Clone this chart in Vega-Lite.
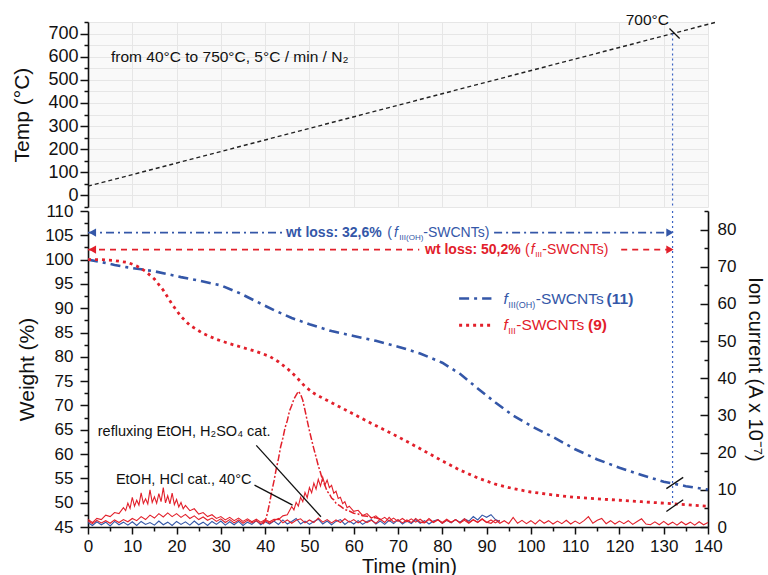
{
  "$schema": "https://vega.github.io/schema/vega-lite/v6.json",
  "padding": {"left": 11, "top": 13, "right": 4, "bottom": 2},
  "background": "white",
  "config": {
    "font": "Liberation Sans",
    "view": {"stroke": null},
    "axis": {
      "domainColor": "#111", "domainWidth": 1.6,
      "tickColor": "#111", "tickWidth": 1.5,
      "labelColor": "#111", "titleColor": "#111",
      "labelFontSize": 17, "titleFontSize": 21, "titleFontWeight": "normal",
      "labelOverlap": false, "labelFlush": false, "tickCount": 100,
      "grid": false
    }
  },
  "datasets": {
    "temp": [{"t": 0, "v": 40}, {"t": 142, "v": 750}],
    "tgaOh": [
      {"t":0,"v":100},{"t":3,"v":99.5},{"t":6,"v":98.9},{"t":9,"v":98.4},{"t":12,"v":98.0},{"t":15,"v":97.6},{"t":18,"v":97.0},{"t":21,"v":96.4},{"t":25,"v":95.7},{"t":30,"v":94.7},{"t":34,"v":93.2},{"t":38,"v":91.4},{"t":42,"v":89.6},{"t":46,"v":88.0},{"t":50,"v":86.7},{"t":55,"v":85.3},{"t":60,"v":84.3},{"t":65,"v":83.3},{"t":70,"v":82.1},{"t":75,"v":80.7},{"t":80,"v":78.8},{"t":84,"v":76.5},{"t":88,"v":73.5},{"t":92,"v":70.6},{"t":96,"v":67.9},{"t":100,"v":65.8},{"t":105,"v":63.5},{"t":110,"v":61.0},{"t":115,"v":58.9},{"t":120,"v":57.2},{"t":125,"v":55.7},{"t":130,"v":54.3},{"t":135,"v":53.4},{"t":140,"v":52.7}
    ],
    "tgaIii": [
      {"t":0,"v":100},{"t":3,"v":100},{"t":6,"v":99.8},{"t":9,"v":99.4},{"t":11,"v":98.7},{"t":13,"v":97.6},{"t":15,"v":96.0},{"t":17,"v":93.7},{"t":19,"v":90.8},{"t":21,"v":88.3},{"t":23,"v":86.5},{"t":26,"v":84.8},{"t":29,"v":83.6},{"t":32,"v":82.7},{"t":35,"v":81.9},{"t":38,"v":81.1},{"t":41,"v":80.1},{"t":43,"v":79.0},{"t":45,"v":77.6},{"t":47,"v":75.9},{"t":49,"v":73.9},{"t":51,"v":72.5},{"t":53,"v":71.5},{"t":56,"v":70.1},{"t":60,"v":68.2},{"t":64,"v":66.3},{"t":68,"v":64.5},{"t":72,"v":62.6},{"t":76,"v":60.6},{"t":80,"v":58.6},{"t":84,"v":56.7},{"t":88,"v":55.1},{"t":92,"v":53.8},{"t":96,"v":52.9},{"t":100,"v":52.2},{"t":105,"v":51.6},{"t":110,"v":51.1},{"t":115,"v":50.8},{"t":120,"v":50.5},{"t":125,"v":50.2},{"t":130,"v":49.9},{"t":135,"v":49.6},{"t":140,"v":49.25}
    ],
    "msBl": [
      {"t":0,"v":1.2},{"t":1,"v":0.4},{"t":2,"v":1.4},{"t":3,"v":0.6},{"t":4,"v":1.3},{"t":5,"v":0.3},{"t":6,"v":1.5},{"t":7,"v":0.6},{"t":8,"v":1.3},{"t":9,"v":0.5},{"t":10,"v":1.4},{"t":11,"v":0.4},{"t":12,"v":1.5},{"t":13,"v":0.7},{"t":14,"v":1.2},{"t":15,"v":0.5},{"t":16,"v":1.6},{"t":17,"v":0.6},{"t":18,"v":1.3},{"t":19,"v":0.4},{"t":20,"v":1.5},{"t":21,"v":0.7},{"t":22,"v":1.4},{"t":23,"v":0.5},{"t":24,"v":1.6},{"t":25,"v":0.6},{"t":26,"v":1.3},{"t":27,"v":0.4},{"t":28,"v":1.5},{"t":29,"v":0.7},{"t":30,"v":1.6},{"t":31,"v":0.5},{"t":32,"v":1.4},{"t":33,"v":0.6},{"t":34,"v":1.5},{"t":35,"v":0.4},{"t":36,"v":1.3},{"t":37,"v":0.7},{"t":38,"v":1.7},{"t":39,"v":0.6},{"t":40,"v":1.4},{"t":41,"v":0.8},{"t":42,"v":1.6},{"t":43,"v":0.7},{"t":44,"v":1.9},{"t":45,"v":0.8},{"t":46,"v":1.5},{"t":47,"v":2.3},{"t":48,"v":0.8},{"t":49,"v":1.6},{"t":50,"v":0.7},{"t":51,"v":1.5},{"t":52,"v":2.1},{"t":53,"v":0.8},{"t":54,"v":1.6},{"t":55,"v":0.6},{"t":56,"v":1.5},{"t":57,"v":2.0},{"t":58,"v":0.7},{"t":59,"v":1.6},{"t":60,"v":0.8},{"t":61,"v":1.7},{"t":62,"v":0.7},{"t":63,"v":1.5},{"t":64,"v":2.0},{"t":65,"v":0.8},{"t":66,"v":1.6},{"t":67,"v":0.7},{"t":68,"v":1.8},{"t":69,"v":0.9},{"t":70,"v":1.9},{"t":71,"v":0.8},{"t":72,"v":1.6},{"t":73,"v":0.9},{"t":74,"v":2.0},{"t":75,"v":1.0},{"t":76,"v":1.7},{"t":77,"v":0.8},{"t":78,"v":1.6},{"t":79,"v":2.0},{"t":80,"v":1.0},{"t":81,"v":1.8},{"t":82,"v":1.1},{"t":83,"v":2.0},{"t":84,"v":1.3},{"t":85,"v":2.2},{"t":86,"v":1.6},{"t":87,"v":2.8},{"t":88,"v":1.9},{"t":89,"v":3.2},{"t":90,"v":2.6},{"t":91,"v":3.3},{"t":92,"v":2.0},{"t":93,"v":1.5}
    ],
    "msRb": [
      {"t":0,"v":1.6},{"t":1,"v":0.9},{"t":2,"v":1.8},{"t":3,"v":1.1},{"t":4,"v":1.7},{"t":5,"v":1.0},{"t":6,"v":1.9},{"t":7,"v":1.2},{"t":8,"v":2.0},{"t":9,"v":1.4},{"t":10,"v":2.3},{"t":11,"v":1.7},{"t":12,"v":2.8},{"t":13,"v":2.0},{"t":14,"v":3.2},{"t":15,"v":2.4},{"t":16,"v":3.6},{"t":17,"v":2.7},{"t":18,"v":3.8},{"t":19,"v":2.8},{"t":20,"v":3.6},{"t":21,"v":2.6},{"t":22,"v":3.4},{"t":23,"v":2.3},{"t":24,"v":3.0},{"t":25,"v":2.0},{"t":26,"v":2.7},{"t":27,"v":1.8},{"t":28,"v":2.4},{"t":29,"v":1.5},{"t":30,"v":2.2},{"t":31,"v":1.2},{"t":32,"v":2.0},{"t":33,"v":1.1},{"t":34,"v":1.9},{"t":35,"v":1.0},{"t":36,"v":1.8},{"t":37,"v":1.1},{"t":38,"v":1.7},{"t":39,"v":0.9},{"t":40,"v":1.8},{"t":41,"v":1.0},{"t":42,"v":1.7},{"t":43,"v":2.3},{"t":44,"v":1.1},{"t":45,"v":1.9},{"t":46,"v":1.0},{"t":47,"v":1.8},{"t":48,"v":2.2},{"t":49,"v":1.1},{"t":50,"v":1.9},{"t":51,"v":1.2},{"t":52,"v":2.4},{"t":53,"v":1.3},{"t":54,"v":2.0},{"t":55,"v":1.1},{"t":56,"v":1.9},{"t":57,"v":1.2},{"t":58,"v":2.2},{"t":59,"v":1.3},{"t":60,"v":2.0},{"t":61,"v":1.1},{"t":62,"v":1.9},{"t":63,"v":1.2},{"t":64,"v":1.8},{"t":65,"v":1.0},{"t":66,"v":2.1},{"t":67,"v":1.2},{"t":68,"v":2.6},{"t":69,"v":1.3},{"t":70,"v":2.0},{"t":71,"v":1.1},{"t":72,"v":1.9},{"t":73,"v":1.2},{"t":74,"v":2.3},{"t":75,"v":1.3},{"t":76,"v":1.1},{"t":77,"v":2.0},{"t":78,"v":1.2},{"t":79,"v":1.9},{"t":80,"v":1.0},{"t":81,"v":1.8},{"t":82,"v":1.2},{"t":83,"v":2.0},{"t":84,"v":1.1},{"t":85,"v":1.8},{"t":86,"v":1.0},{"t":87,"v":1.9},{"t":88,"v":1.2},{"t":89,"v":2.2},{"t":90,"v":1.3},{"t":91,"v":1.0},{"t":92,"v":1.9},{"t":93,"v":1.0},{"t":94,"v":1.7},{"t":95,"v":0.9},{"t":96,"v":2.6},{"t":97,"v":1.0},{"t":98,"v":1.8},{"t":99,"v":0.9},{"t":100,"v":1.7},{"t":101,"v":0.8},{"t":102,"v":1.9},{"t":103,"v":1.0},{"t":104,"v":1.7},{"t":105,"v":0.8},{"t":106,"v":1.6},{"t":107,"v":0.9},{"t":108,"v":1.8},{"t":109,"v":0.8},{"t":110,"v":1.6},{"t":111,"v":0.9},{"t":112,"v":1.7},{"t":113,"v":2.8},{"t":114,"v":1.0},{"t":115,"v":1.8},{"t":116,"v":2.3},{"t":117,"v":0.9},{"t":118,"v":1.7},{"t":119,"v":0.8},{"t":120,"v":1.6},{"t":121,"v":0.9},{"t":122,"v":1.7},{"t":123,"v":0.7},{"t":124,"v":1.5},{"t":125,"v":2.2},{"t":126,"v":0.8},{"t":127,"v":0.6},{"t":128,"v":1.4},{"t":129,"v":0.6},{"t":130,"v":1.5},{"t":131,"v":0.6},{"t":132,"v":1.3},{"t":133,"v":0.5},{"t":134,"v":1.4},{"t":135,"v":0.6},{"t":136,"v":1.3},{"t":137,"v":0.5},{"t":138,"v":1.4},{"t":139,"v":0.6},{"t":140,"v":1.2}
    ],
    "msRa": [
      {"t":0,"v":2.0},{"t":1,"v":1.2},{"t":2,"v":2.3},{"t":3,"v":2.0},{"t":4,"v":3.2},{"t":5,"v":2.8},{"t":6,"v":3.9},{"t":7,"v":3.6},{"t":8,"v":5.2},{"t":8.5,"v":4.4},{"t":9,"v":6.4},{"t":9.5,"v":5.0},{"t":10,"v":8.0},{"t":10.5,"v":5.6},{"t":11,"v":7.2},{"t":11.5,"v":5.9},{"t":12,"v":9.2},{"t":12.5,"v":6.3},{"t":13,"v":7.6},{"t":13.5,"v":6.2},{"t":14,"v":10.0},{"t":14.5,"v":6.6},{"t":15,"v":8.1},{"t":15.5,"v":6.4},{"t":16,"v":9.0},{"t":16.5,"v":6.8},{"t":17,"v":10.6},{"t":17.5,"v":6.5},{"t":18,"v":8.4},{"t":18.5,"v":6.2},{"t":19,"v":9.1},{"t":19.5,"v":6.0},{"t":20,"v":7.4},{"t":20.5,"v":5.4},{"t":21,"v":6.6},{"t":21.5,"v":4.9},{"t":22,"v":5.8},{"t":23,"v":4.4},{"t":24,"v":4.9},{"t":25,"v":3.5},{"t":26,"v":3.9},{"t":27,"v":2.8},{"t":28,"v":3.3},{"t":29,"v":2.3},{"t":30,"v":2.8},{"t":31,"v":1.9},{"t":32,"v":2.6},{"t":33,"v":1.7},{"t":34,"v":2.4},{"t":35,"v":1.5},{"t":36,"v":2.2},{"t":37,"v":1.4},{"t":38,"v":2.1},{"t":39,"v":1.3},{"t":40,"v":2.0},{"t":41,"v":1.4},{"t":42,"v":2.1},{"t":43,"v":2.0},{"t":44,"v":3.0},{"t":45,"v":3.3},{"t":46,"v":5.5},{"t":46.5,"v":4.6},{"t":47,"v":6.6},{"t":47.5,"v":5.6},{"t":48,"v":8.0},{"t":48.5,"v":6.8},{"t":49,"v":9.3},{"t":49.5,"v":7.9},{"t":50,"v":10.6},{"t":50.5,"v":9.2},{"t":51,"v":11.8},{"t":51.5,"v":10.2},{"t":52,"v":12.8},{"t":52.5,"v":11.0},{"t":53,"v":13.4},{"t":53.5,"v":11.3},{"t":54,"v":12.6},{"t":54.5,"v":10.6},{"t":55,"v":11.2},{"t":55.5,"v":9.1},{"t":56,"v":9.6},{"t":56.5,"v":7.7},{"t":57,"v":8.0},{"t":57.5,"v":6.3},{"t":58,"v":6.8},{"t":58.5,"v":5.2},{"t":59,"v":5.6},{"t":60,"v":4.2},{"t":61,"v":4.5},{"t":62,"v":3.1},{"t":63,"v":3.6},{"t":64,"v":2.4},{"t":65,"v":3.0},{"t":66,"v":1.9},{"t":67,"v":2.6},{"t":68,"v":1.6},{"t":69,"v":2.4},{"t":70,"v":1.5},{"t":71,"v":2.3},{"t":72,"v":1.4},{"t":73,"v":2.2},{"t":74,"v":1.3},{"t":75,"v":2.1},{"t":76,"v":1.2},{"t":77,"v":2.3},{"t":78,"v":1.3},{"t":79,"v":2.0},{"t":80,"v":1.2},{"t":81,"v":2.1},{"t":82,"v":1.3},{"t":83,"v":2.0},{"t":84,"v":1.1},{"t":85,"v":2.2},{"t":86,"v":1.2},{"t":87,"v":2.0},{"t":88,"v":1.3},{"t":89,"v":2.1},{"t":90,"v":1.2},{"t":91,"v":1.9},{"t":92,"v":1.1},{"t":93,"v":1.8}
    ],
    "msRc": [
      {"t":39.5,"v":0.8},{"t":40,"v":1.6},{"t":40.5,"v":3.6},{"t":41,"v":6.4},{"t":41.5,"v":9.6},{"t":42,"v":12.4},{"t":42.5,"v":15.6},{"t":43,"v":18.3},{"t":43.5,"v":21.6},{"t":44,"v":23.9},{"t":44.5,"v":26.7},{"t":45,"v":28.6},{"t":45.5,"v":31.2},{"t":46,"v":32.7},{"t":46.5,"v":34.4},{"t":47,"v":35.5},{"t":47.5,"v":36.5},{"t":48,"v":35.7},{"t":48.5,"v":34.1},{"t":49,"v":31.4},{"t":49.5,"v":28.6},{"t":50,"v":25.9},{"t":50.5,"v":23.4},{"t":51,"v":21.0},{"t":51.5,"v":18.8},{"t":52,"v":16.5},{"t":52.5,"v":14.6},{"t":53,"v":12.4},{"t":53.5,"v":11.2},{"t":54,"v":9.6},{"t":54.5,"v":8.9},{"t":55,"v":7.8},{"t":55.5,"v":7.3},{"t":56,"v":6.4},{"t":57,"v":5.6},{"t":58,"v":4.7},{"t":59,"v":4.3},{"t":60,"v":3.7},{"t":61,"v":3.5},{"t":62,"v":3.0},{"t":63,"v":2.9},{"t":64,"v":2.5},{"t":65,"v":2.5},{"t":66,"v":2.1}
    ],
    "wtLabels": [
      {"sr":"OH","part":"head","t":44.7,"v":105.56,"txt":"wt loss: 32,6%"},
      {"sr":"OH","part":"plain","t":67.6,"v":105.56,"txt":"("},
      {"sr":"OH","part":"f","t":69.1,"v":105.56,"txt":"f"},
      {"sr":"OH","part":"sub","t":70.3,"v":105.56,"txt":"III(OH)"},
      {"sr":"OH","part":"plain","t":75.7,"v":105.56,"txt":"-SWCNTs)"},
      {"sr":"III","part":"head","t":76.1,"v":102.06,"txt":"wt loss: 50,2%"},
      {"sr":"III","part":"plain","t":98.7,"v":102.06,"txt":"("},
      {"sr":"III","part":"f","t":100.0,"v":102.06,"txt":"f"},
      {"sr":"III","part":"sub","t":101.0,"v":102.06,"txt":"III"},
      {"sr":"III","part":"plain","t":102.6,"v":102.06,"txt":"-SWCNTs)"}
    ],
    "legendLabels": [
      {"sr":"OH","part":"f","t":93.8,"v":92,"txt":"f"},
      {"sr":"OH","part":"sub","t":94.9,"v":92,"txt":"III(OH)"},
      {"sr":"OH","part":"name","t":101.1,"v":92,"txt":"-SWCNTs"},
      {"sr":"OH","part":"num","t":117.1,"v":92,"txt":"(11)"},
      {"sr":"III","part":"f","t":93.8,"v":86.5,"txt":"f"},
      {"sr":"III","part":"sub","t":94.9,"v":86.5,"txt":"III"},
      {"sr":"III","part":"name","t":96.7,"v":86.5,"txt":"-SWCNTs"},
      {"sr":"III","part":"num","t":112.9,"v":86.5,"txt":"(9)"}
    ]
  },
  "spacing": 4,
  "bounds": "flush",
  "vconcat": [
    {
      "width": 620,
      "height": 185,
      "view": {"fill": "#f9f9f9", "stroke": null},
      "layer": [
        {
          "data": {"name": "temp"},
          "mark": {"type": "line", "color": "#222", "strokeDash": [4, 3], "strokeWidth": 1.4},
          "encoding": {
            "x": {"field": "t", "type": "quantitative", "scale": {"domain": [0, 140], "nice": false},
              "axis": {"values": [0,10,20,30,40,50,60,70,80,90,100,110,120,130,140], "tickCount": 100, "grid": true, "gridColor": "#e6e6e6", "labels": false, "ticks": false, "domain": false, "title": null}},
            "y": {"field": "v", "type": "quantitative", "scale": {"domain": [-50, 750], "nice": false},
              "axis": {"values": [-50,0,50,100,150,200,250,300,350,400,450,500,550,600,650,700,750], "tickCount": 100, "grid": true, "gridColor": "#e6e6e6",
                "labelOverlap": false, "format": "~f",
                "labelExpr": "datum.value % 100 === 0 && datum.value >= 0 && datum.value <= 700 ? datum.label : ''",
                "tickSize": {"condition": {"test": "datum.value % 100 === 0", "value": 8}, "value": 4},
                "labelPadding": 2, "labelFontSize": 18, "title": "Temp (°C)", "titlePadding": 15}}
          }
        },
        {
          "data": {"values": [{"t": 132, "v": 700, "v2": -50}]},
          "mark": {"type": "rule", "color": "#3b63c4", "strokeDash": [2, 3], "strokeWidth": 1.2},
          "encoding": {
            "x": {"field": "t", "type": "quantitative"},
            "y": {"field": "v", "type": "quantitative"},
            "y2": {"field": "v2"}
          }
        },
        {
          "data": {"values": [{"t": 131.3, "t2": 133.6, "v": 721.7, "v2": 678.5}]},
          "mark": {"type": "rule", "color": "#111", "strokeWidth": 1.3},
          "encoding": {
            "x": {"field": "t", "type": "quantitative"},
            "x2": {"field": "t2"},
            "y": {"field": "v", "type": "quantitative"},
            "y2": {"field": "v2"}
          }
        },
        {
          "data": {"values": [{"t": 126.3, "v": 757, "txt": "700°C"}]},
          "mark": {"type": "text", "align": "center", "baseline": "middle", "fontSize": 15.5, "color": "#111"},
          "encoding": {
            "x": {"field": "t", "type": "quantitative"},
            "y": {"field": "v", "type": "quantitative"},
            "text": {"field": "txt"}
          }
        },
        {
          "data": {"values": [{"t": 5.2, "v": 597.7, "txt": "from 40°C to 750°C, 5°C / min / N₂"}]},
          "mark": {"type": "text", "align": "left", "baseline": "middle", "fontSize": 15.5, "color": "#111"},
          "encoding": {
            "x": {"field": "t", "type": "quantitative"},
            "y": {"field": "v", "type": "quantitative"},
            "text": {"field": "txt"}
          }
        }
      ]
    },
    {
      "width": 620,
      "height": 316,
      "resolve": {"scale": {"y": "independent"}, "axis": {"y": "independent"}},
      "layer": [
        {
          "layer": [
            {
              "data": {"name": "msBl"},
              "mark": {"type": "line", "color": "#3457a8", "strokeWidth": 1.1},
              "encoding": {
                "x": {"field": "t", "type": "quantitative", "scale": {"domain": [0, 140], "nice": false},
                  "axis": {"values": [0,5,10,15,20,25,30,35,40,45,50,55,60,65,70,75,80,85,90,95,100,105,110,115,120,125,130,135,140],
                    "tickCount": 100, "labelOverlap": false, "format": "~f",
                    "labelExpr": "datum.value % 10 === 0 ? datum.label : ''",
                    "tickSize": {"condition": {"test": "datum.value % 10 === 0", "value": 7}, "value": 4},
                    "labelPadding": 4, "title": "Time (min)", "titleFontSize": 20, "titlePadding": 2, "titleX": 321}},
                "y": {"field": "v", "type": "quantitative", "scale": {"domain": [0, 85], "nice": false},
                  "axis": {"orient": "right", "values": [0,5,10,15,20,25,30,35,40,45,50,55,60,65,70,75,80,85],
                    "tickCount": 100, "labelOverlap": false, "format": "~f",
                    "labelExpr": "datum.value % 10 === 0 && datum.value <= 80 ? datum.label : ''",
                    "tickSize": {"condition": {"test": "datum.value % 10 === 0", "value": -8}, "value": -4},
                    "labelPadding": 17, "title": "Ion current (A x 10⁻⁷)", "titleFontSize": 20, "titlePadding": 9}}
              }
            },
            {
              "data": {"name": "msRb"},
              "mark": {"type": "line", "color": "#e2202b", "strokeWidth": 1.1},
              "encoding": {
                "x": {"field": "t", "type": "quantitative", "scale": {"domain": [0, 140], "nice": false}},
                "y": {"field": "v", "type": "quantitative", "scale": {"domain": [0, 85], "nice": false}}
              }
            },
            {
              "data": {"name": "msRa"},
              "mark": {"type": "line", "color": "#e2202b", "strokeWidth": 1.1},
              "encoding": {
                "x": {"field": "t", "type": "quantitative", "scale": {"domain": [0, 140], "nice": false}},
                "y": {"field": "v", "type": "quantitative", "scale": {"domain": [0, 85], "nice": false}}
              }
            },
            {
              "data": {"name": "msRc"},
              "mark": {"type": "line", "color": "#e2202b", "strokeWidth": 1.5, "strokeDash": [7, 2, 2, 2]},
              "encoding": {
                "x": {"field": "t", "type": "quantitative", "scale": {"domain": [0, 140], "nice": false}},
                "y": {"field": "v", "type": "quantitative", "scale": {"domain": [0, 85], "nice": false}}
              }
            }
          ]
        },
        {
          "layer": [
            {
              "data": {"name": "tgaOh"},
              "mark": {"type": "line", "color": "#3457a8", "strokeWidth": 2.6, "strokeDash": [10, 5, 3, 5]},
              "encoding": {
                "x": {"field": "t", "type": "quantitative", "scale": {"domain": [0, 140], "nice": false}},
                "y": {"field": "v", "type": "quantitative", "scale": {"domain": [45, 110], "nice": false},
                  "axis": {"orient": "left", "values": [45,47.5,50,52.5,55,57.5,60,62.5,65,67.5,70,72.5,75,77.5,80,82.5,85,87.5,90,92.5,95,97.5,100,102.5,105,107.5,110],
                    "tickCount": 100, "labelOverlap": false, "format": "~f",
                    "labelExpr": "datum.value % 5 === 0 ? datum.label : ''",
                    "tickSize": {"condition": {"test": "datum.value % 5 === 0", "value": 8}, "value": 4},
                    "labelPadding": 7, "title": "Weight (%)", "titlePadding": 7}}
              }
            },
            {
              "data": {"name": "tgaIii"},
              "mark": {"type": "line", "color": "#e2202b", "strokeWidth": 2.8, "strokeDash": [3, 4]},
              "encoding": {
                "x": {"field": "t", "type": "quantitative", "scale": {"domain": [0, 140], "nice": false}},
                "y": {"field": "v", "type": "quantitative", "scale": {"domain": [45, 110], "nice": false}}
              }
            },
            {
              "data": {"values": [{"t": 0, "t2": 44, "v": 105.56}, {"t": 91.7, "t2": 132, "v": 105.56}]},
              "mark": {"type": "rule", "color": "#3457a8", "strokeWidth": 1.6, "strokeDash": [8, 4, 2, 4]},
              "encoding": {
                "x": {"field": "t", "type": "quantitative", "scale": {"domain": [0, 140], "nice": false}},
                "x2": {"field": "t2"},
                "y": {"field": "v", "type": "quantitative", "scale": {"domain": [45, 110], "nice": false}}
              }
            },
            {
              "data": {"values": [{"t": 0, "t2": 74.8, "v": 102.06}, {"t": 120.4, "t2": 132, "v": 102.06}]},
              "mark": {"type": "rule", "color": "#e2202b", "strokeWidth": 1.6, "strokeDash": [6, 5]},
              "encoding": {
                "x": {"field": "t", "type": "quantitative", "scale": {"domain": [0, 140], "nice": false}},
                "x2": {"field": "t2"},
                "y": {"field": "v", "type": "quantitative", "scale": {"domain": [45, 110], "nice": false}}
              }
            },
            {
              "data": {"values": [
                {"sr": "OH", "dir": "left", "t": 1.0, "v": 105.56},
                {"sr": "OH", "dir": "right", "t": 131.4, "v": 105.56},
                {"sr": "III", "dir": "left", "t": 1.0, "v": 102.06},
                {"sr": "III", "dir": "right", "t": 131.4, "v": 102.06}
              ]},
              "mark": {"type": "point", "filled": true, "size": 70, "opacity": 1},
              "encoding": {
                "x": {"field": "t", "type": "quantitative", "scale": {"domain": [0, 140], "nice": false}},
                "y": {"field": "v", "type": "quantitative", "scale": {"domain": [45, 110], "nice": false}},
                "shape": {"field": "dir", "type": "nominal", "scale": {"domain": ["left", "right"], "range": ["triangle-left", "triangle-right"]}, "legend": null},
                "color": {"field": "sr", "type": "nominal", "scale": {"domain": ["OH", "III"], "range": ["#3457a8", "#e2202b"]}, "legend": null}
              }
            },
            {
              "data": {"values": [{"t": 132, "v": 110, "v2": 49.8}]},
              "mark": {"type": "rule", "color": "#3b63c4", "strokeDash": [2, 3], "strokeWidth": 1.2},
              "encoding": {
                "x": {"field": "t", "type": "quantitative", "scale": {"domain": [0, 140], "nice": false}},
                "y": {"field": "v", "type": "quantitative", "scale": {"domain": [45, 110], "nice": false}},
                "y2": {"field": "v2"}
              }
            },
            {
              "data": {"values": [
                {"t": 38.0, "t2": 52.6, "v": 61.8, "v2": 47.1},
                {"t": 37.6, "t2": 46.2, "v": 53.6, "v2": 49.5},
                {"t": 130.6, "t2": 134.4, "v": 52.9, "v2": 55.2},
                {"t": 130.6, "t2": 134.4, "v": 48.2, "v2": 50.6}
              ]},
              "mark": {"type": "rule", "color": "#111", "strokeWidth": 1.3},
              "encoding": {
                "x": {"field": "t", "type": "quantitative", "scale": {"domain": [0, 140], "nice": false}},
                "x2": {"field": "t2"},
                "y": {"field": "v", "type": "quantitative", "scale": {"domain": [45, 110], "nice": false}},
                "y2": {"field": "v2"}
              }
            },
            {
              "data": {"values": [{"t": 83.8, "t2": 91.1, "v": 92}]},
              "mark": {"type": "rule", "color": "#3457a8", "strokeWidth": 2.6, "strokeDash": [10, 5, 3, 5]},
              "encoding": {
                "x": {"field": "t", "type": "quantitative", "scale": {"domain": [0, 140], "nice": false}},
                "x2": {"field": "t2"},
                "y": {"field": "v", "type": "quantitative", "scale": {"domain": [45, 110], "nice": false}}
              }
            },
            {
              "data": {"values": [{"t": 83.8, "t2": 91.1, "v": 86.5}]},
              "mark": {"type": "rule", "color": "#e2202b", "strokeWidth": 2.8, "strokeDash": [3, 4]},
              "encoding": {
                "x": {"field": "t", "type": "quantitative", "scale": {"domain": [0, 140], "nice": false}},
                "x2": {"field": "t2"},
                "y": {"field": "v", "type": "quantitative", "scale": {"domain": [45, 110], "nice": false}}
              }
            },
            {
              "data": {"name": "wtLabels"},
              "transform": [{"filter": "datum.part === 'head'"}],
              "mark": {"type": "text", "align": "left", "baseline": "middle", "fontSize": 14, "fontWeight": "bold"},
              "encoding": {
                "x": {"field": "t", "type": "quantitative", "scale": {"domain": [0, 140], "nice": false}},
                "y": {"field": "v", "type": "quantitative", "scale": {"domain": [45, 110], "nice": false}},
                "text": {"field": "txt"},
                "color": {"field": "sr", "type": "nominal", "legend": null}
              }
            },
            {
              "data": {"name": "wtLabels"},
              "transform": [{"filter": "datum.part === 'plain'"}],
              "mark": {"type": "text", "align": "left", "baseline": "middle", "fontSize": 14},
              "encoding": {
                "x": {"field": "t", "type": "quantitative", "scale": {"domain": [0, 140], "nice": false}},
                "y": {"field": "v", "type": "quantitative", "scale": {"domain": [45, 110], "nice": false}},
                "text": {"field": "txt"},
                "color": {"field": "sr", "type": "nominal", "legend": null}
              }
            },
            {
              "data": {"name": "wtLabels"},
              "transform": [{"filter": "datum.part === 'f'"}],
              "mark": {"type": "text", "align": "left", "baseline": "middle", "fontSize": 14, "fontStyle": "italic"},
              "encoding": {
                "x": {"field": "t", "type": "quantitative", "scale": {"domain": [0, 140], "nice": false}},
                "y": {"field": "v", "type": "quantitative", "scale": {"domain": [45, 110], "nice": false}},
                "text": {"field": "txt"},
                "color": {"field": "sr", "type": "nominal", "legend": null}
              }
            },
            {
              "data": {"name": "wtLabels"},
              "transform": [{"filter": "datum.part === 'sub'"}],
              "mark": {"type": "text", "align": "left", "baseline": "middle", "fontSize": 8, "dy": 5},
              "encoding": {
                "x": {"field": "t", "type": "quantitative", "scale": {"domain": [0, 140], "nice": false}},
                "y": {"field": "v", "type": "quantitative", "scale": {"domain": [45, 110], "nice": false}},
                "text": {"field": "txt"},
                "color": {"field": "sr", "type": "nominal", "legend": null}
              }
            },
            {
              "data": {"name": "legendLabels"},
              "transform": [{"filter": "datum.part === 'f'"}],
              "mark": {"type": "text", "align": "left", "baseline": "middle", "fontSize": 15.5, "fontStyle": "italic"},
              "encoding": {
                "x": {"field": "t", "type": "quantitative", "scale": {"domain": [0, 140], "nice": false}},
                "y": {"field": "v", "type": "quantitative", "scale": {"domain": [45, 110], "nice": false}},
                "text": {"field": "txt"},
                "color": {"field": "sr", "type": "nominal", "legend": null}
              }
            },
            {
              "data": {"name": "legendLabels"},
              "transform": [{"filter": "datum.part === 'sub'"}],
              "mark": {"type": "text", "align": "left", "baseline": "middle", "fontSize": 9, "dy": 6},
              "encoding": {
                "x": {"field": "t", "type": "quantitative", "scale": {"domain": [0, 140], "nice": false}},
                "y": {"field": "v", "type": "quantitative", "scale": {"domain": [45, 110], "nice": false}},
                "text": {"field": "txt"},
                "color": {"field": "sr", "type": "nominal", "legend": null}
              }
            },
            {
              "data": {"name": "legendLabels"},
              "transform": [{"filter": "datum.part === 'name'"}],
              "mark": {"type": "text", "align": "left", "baseline": "middle", "fontSize": 15.5},
              "encoding": {
                "x": {"field": "t", "type": "quantitative", "scale": {"domain": [0, 140], "nice": false}},
                "y": {"field": "v", "type": "quantitative", "scale": {"domain": [45, 110], "nice": false}},
                "text": {"field": "txt"},
                "color": {"field": "sr", "type": "nominal", "legend": null}
              }
            },
            {
              "data": {"name": "legendLabels"},
              "transform": [{"filter": "datum.part === 'num'"}],
              "mark": {"type": "text", "align": "left", "baseline": "middle", "fontSize": 15.5, "fontWeight": "bold"},
              "encoding": {
                "x": {"field": "t", "type": "quantitative", "scale": {"domain": [0, 140], "nice": false}},
                "y": {"field": "v", "type": "quantitative", "scale": {"domain": [45, 110], "nice": false}},
                "text": {"field": "txt"},
                "color": {"field": "sr", "type": "nominal", "legend": null}
              }
            },
            {
              "data": {"values": [
                {"t": 2.2, "v": 64.55, "txt": "refluxing EtOH, H₂SO₄ cat."},
                {"t": 6.3, "v": 54.6, "txt": "EtOH, HCl cat., 40°C"}
              ]},
              "mark": {"type": "text", "align": "left", "baseline": "middle", "fontSize": 14.5, "color": "#111"},
              "encoding": {
                "x": {"field": "t", "type": "quantitative", "scale": {"domain": [0, 140], "nice": false}},
                "y": {"field": "v", "type": "quantitative", "scale": {"domain": [45, 110], "nice": false}},
                "text": {"field": "txt"}
              }
            }
          ]
        }
      ]
    }
  ]
}
